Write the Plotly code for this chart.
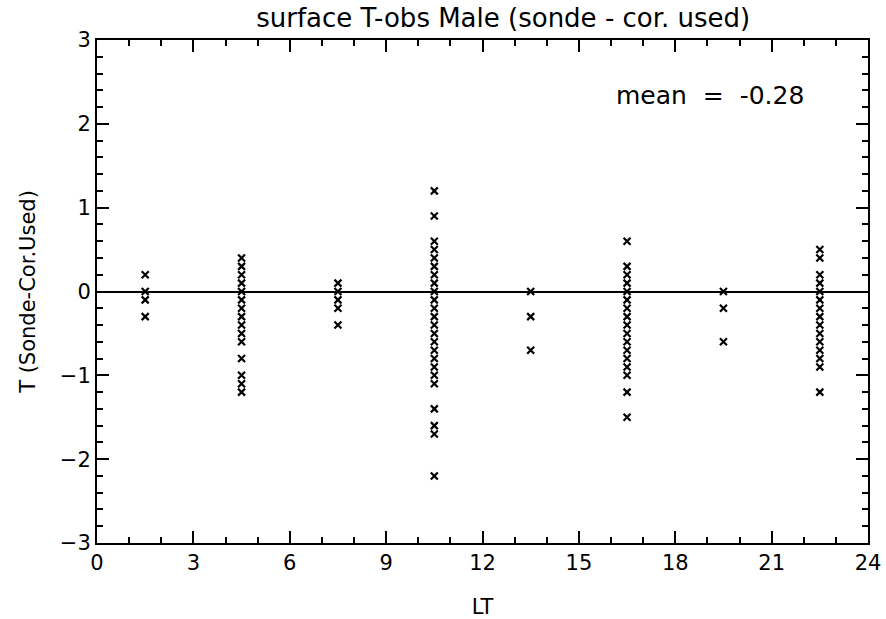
import plotly.graph_objects as go

lt_hours = [1.5, 4.5, 7.5, 10.5, 13.5, 16.5, 19.5, 22.5]
diffs = [
    [0.2, 0.0, -0.1, -0.3],
    [0.4, 0.3, 0.2, 0.1, 0.0, -0.1, -0.2, -0.3, -0.4, -0.5, -0.6, -0.8, -1.0, -1.1, -1.2],
    [0.1, 0.0, -0.1, -0.2, -0.4],
    [1.2, 0.9, 0.6, 0.5, 0.4, 0.3, 0.2, 0.1, 0.0, -0.1, -0.2, -0.3, -0.4, -0.5, -0.6,
     -0.7, -0.8, -0.9, -1.0, -1.1, -1.4, -1.6, -1.7, -2.2],
    [0.0, -0.3, -0.7],
    [0.6, 0.3, 0.2, 0.1, 0.0, -0.1, -0.2, -0.3, -0.4, -0.5, -0.6, -0.7, -0.8, -0.9, -1.0, -1.2, -1.5],
    [0.0, -0.2, -0.6],
    [0.5, 0.4, 0.2, 0.1, 0.0, -0.1, -0.2, -0.3, -0.4, -0.5, -0.6, -0.7, -0.8, -0.9, -1.2],
]
mean_text = "mean\u00a0\u00a0=\u00a0\u00a0-0.28"
x_ticks = [0, 3, 6, 9, 12, 15, 18, 21, 24]
y_ticks = [-3, -2, -1, 0, 1, 2, 3]

xs, ys = [], []
for h, vals in zip(lt_hours, diffs):
    for v in vals:
        xs.append(h)
        ys.append(v)

FONT = "DejaVu Sans"

fig = go.Figure()
fig.add_trace(go.Scatter(
    x=xs, y=ys, mode="markers",
    marker=dict(symbol="x-thin", size=7, line=dict(color="black", width=2.2), color="black"),
    showlegend=False,
))

axis_common = dict(
    showgrid=False, showline=True, linecolor="black", linewidth=2,
    mirror="ticks", ticks="inside", ticklen=12, tickwidth=1.5, tickcolor="black",
    tickfont=dict(family=FONT, size=21, color="black"), automargin=False,
)

fig.update_xaxes(
    range=[0, 24], tickvals=x_ticks, zeroline=False,
    minor=dict(dtick=1, ticks="inside", ticklen=6, tickwidth=1.5, tickcolor="black"),
    title=dict(text="LT", font=dict(family=FONT, size=21, color="black"), standoff=26),
    **axis_common,
)
fig.update_yaxes(
    range=[-3, 3], tickvals=y_ticks, zeroline=True, zerolinecolor="black", zerolinewidth=2,
    minor=dict(dtick=0.2, ticks="inside", ticklen=6, tickwidth=1.5, tickcolor="black"),
    title=dict(text="T (Sonde-Cor.Used)", font=dict(family=FONT, size=21, color="black"), standoff=18),
    **axis_common,
)

fig.add_annotation(
    x=0.795, y=0.89, xref="paper", yref="paper", text=mean_text, showarrow=False,
    font=dict(family=FONT, size=25, color="black"), xanchor="center", yanchor="middle",
)

fig.update_layout(
    width=886, height=619,
    margin=dict(l=97, r=18, t=40, b=76),
    paper_bgcolor="white", plot_bgcolor="white",
    title=dict(text="surface T-obs Male (sonde - cor. used)", x=0.568, xanchor="center",
               y=0.971, yanchor="middle",
               font=dict(family=FONT, size=26, color="black")),
)

fig.write_html("out.html")
